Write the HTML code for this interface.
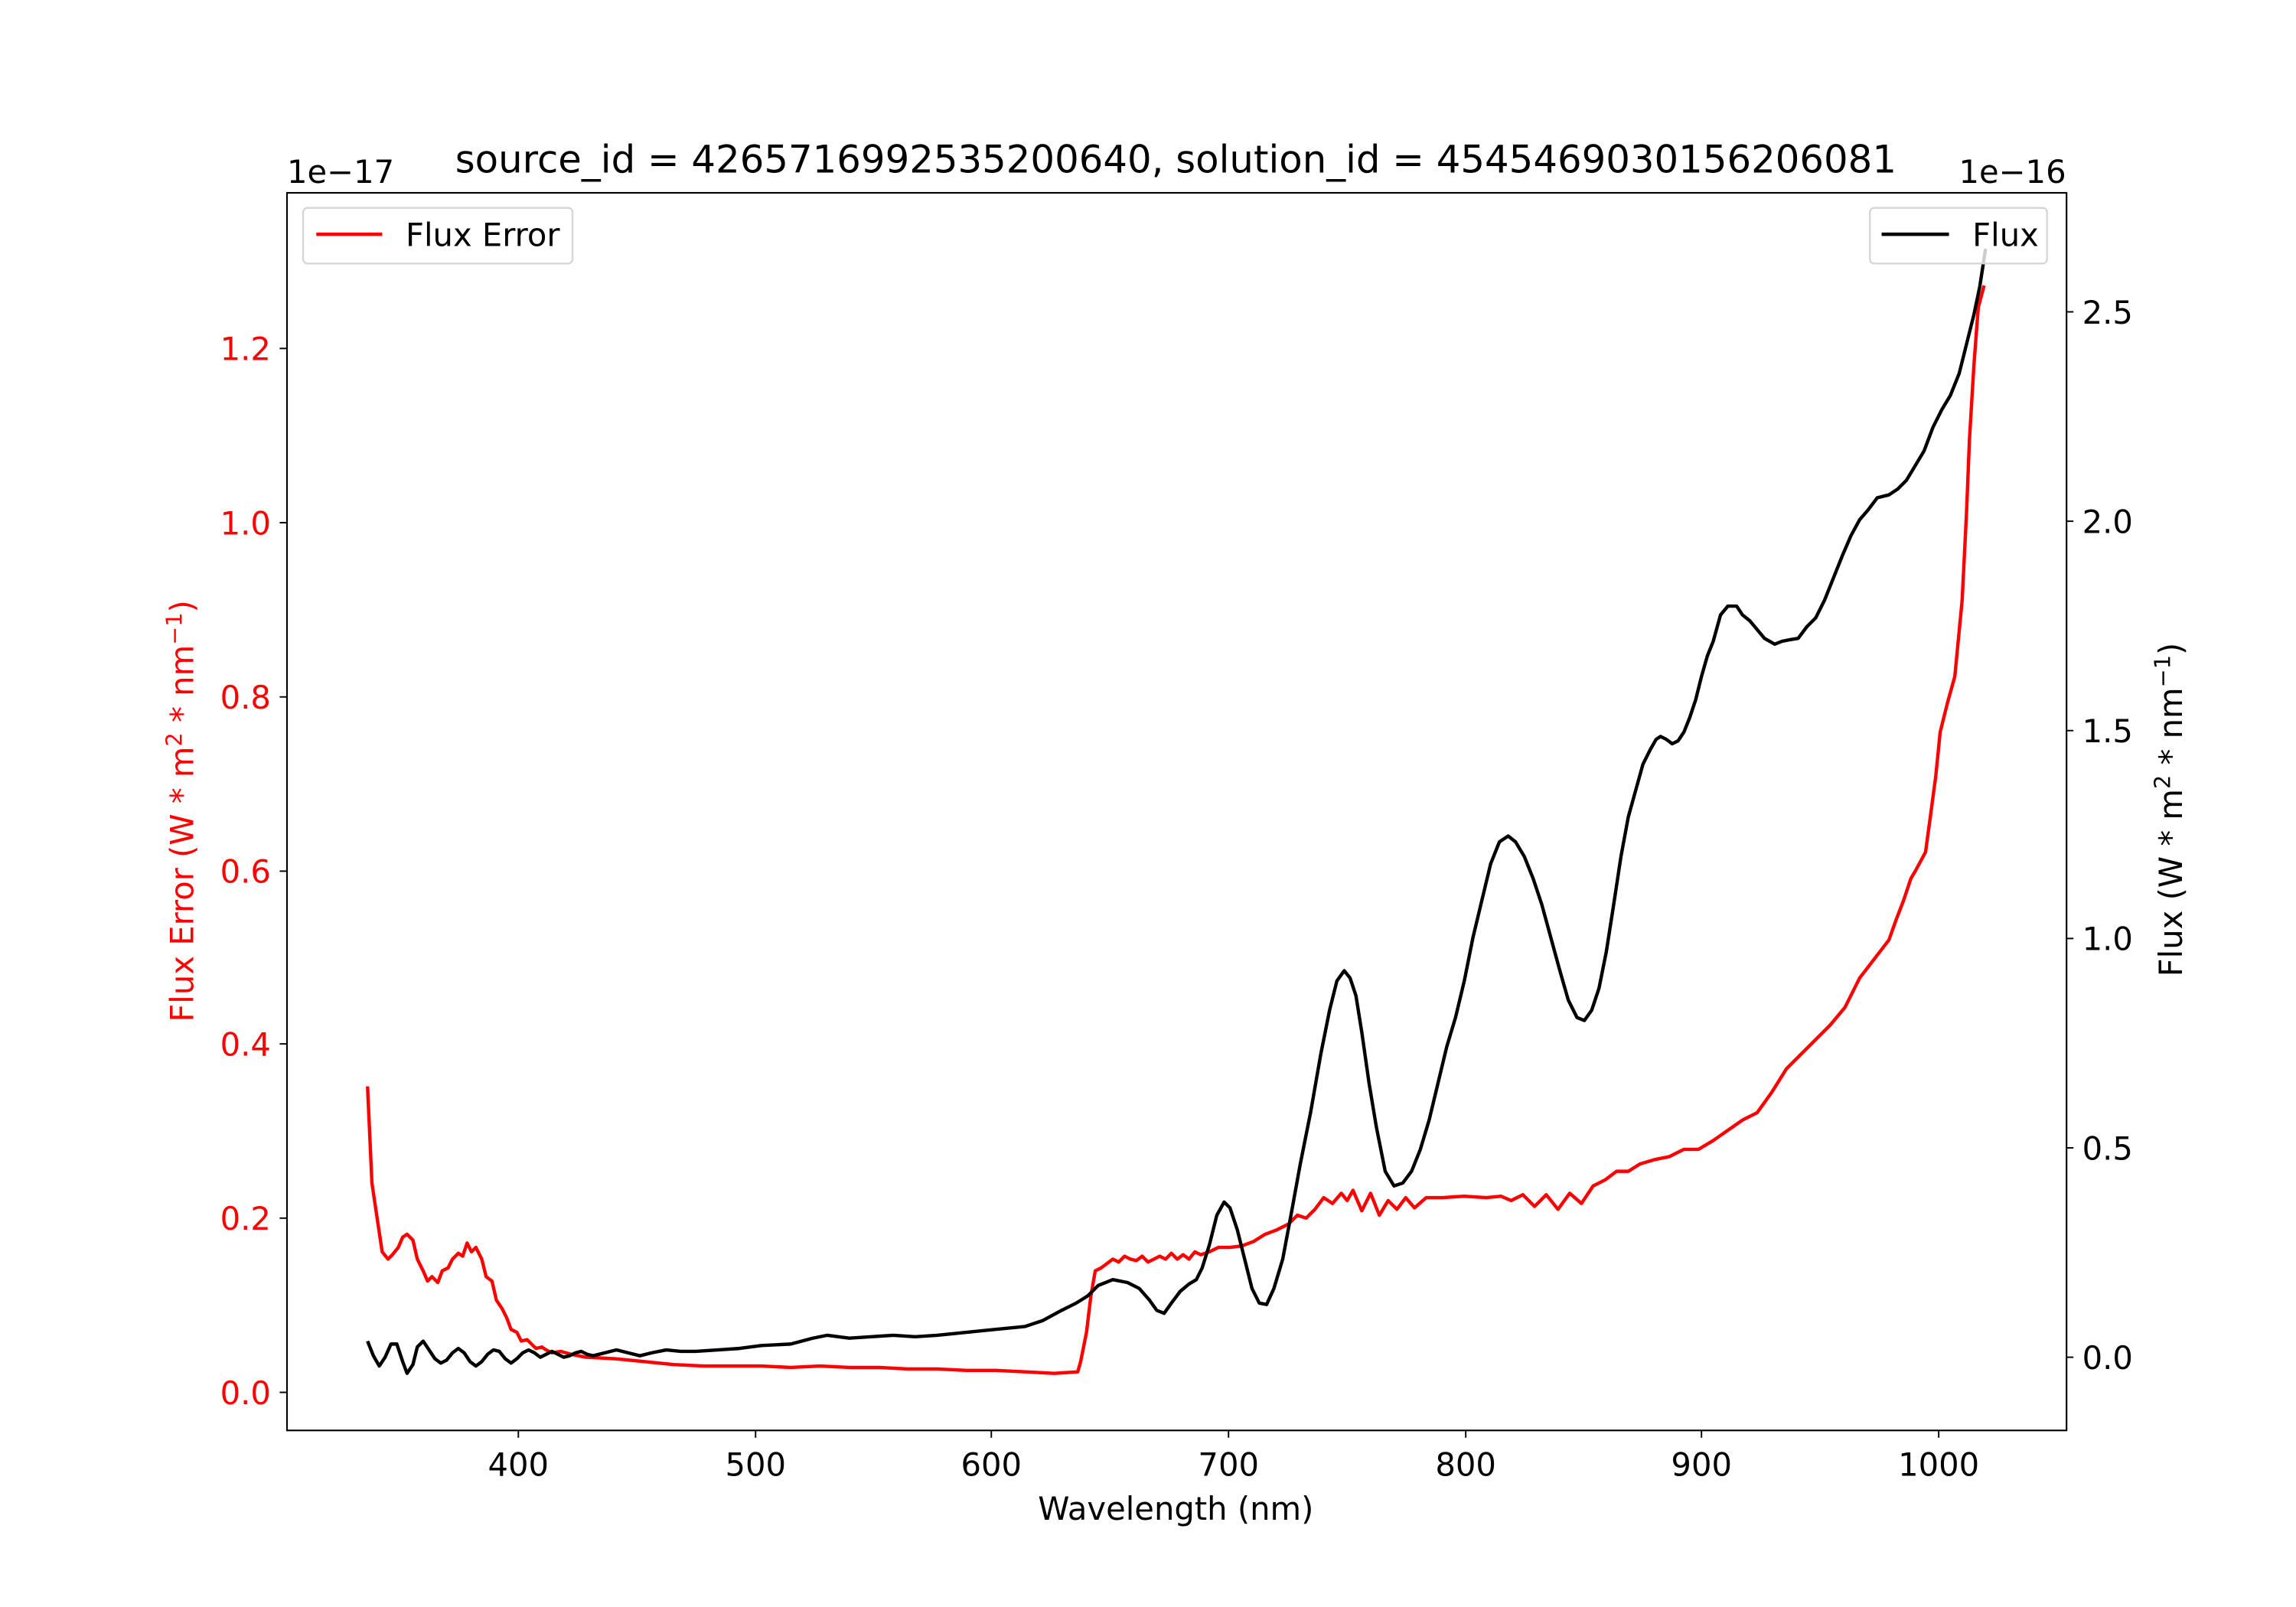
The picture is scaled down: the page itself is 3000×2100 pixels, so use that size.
<!DOCTYPE html>
<html><head><meta charset="utf-8"><style>html,body{margin:0;padding:0;background:#fff}svg{display:block}</style></head>
<body>
<svg width="3000" height="2100" viewBox="0 0 1568 1097.6" preserveAspectRatio="none" xmlns="http://www.w3.org/2000/svg" font-family="'DejaVu Sans','Liberation Sans',sans-serif">
<rect width="1568" height="1098" fill="#fff"/>
<polyline fill="none" stroke="#ff0000" stroke-width="2.3" stroke-linejoin="round" points="251,742 254,808 258,835 261,855 265,860 268,857 272,852 275,845 278,843 282,847 285,860 289,868 292,875 295,872 299,876 302,868 306,866 309,860 313,856 316,858 319,849 322,855 325,852 329,860 332,872 336,875 339,888 343,894 346,900 349,908 353,910 356,916 360,915 363,918 366,921 370,920 373,922 377,924 383,923 390,925 400,927 420,928 440,930 460,932 480,933 500,933 520,933 540,934 560,933 580,934 600,934 620,935 640,935 660,936 680,936 700,937 720,938 736,937 738,930 742,910 745,885 748,868 752,866 756,863 760,860 764,862 768,858 772,860 776,861 780,858 784,862 788,860 792,858 796,860 800,856 804,860 808,857 812,860 816,855 820,857 826,855 832,852 840,852 848,851 856,848 864,843 872,840 880,836 886,830 892,832 898,826 904,818 910,822 916,815 920,820 924,813 930,827 936,815 942,830 948,820 954,826 960,818 966,825 974,818 985,818 1000,817 1015,818 1025,817 1032,820 1040,816 1048,824 1056,816 1064,826 1072,815 1080,822 1088,810 1096,806 1104,800 1112,800 1120,795 1130,792 1140,790 1150,785 1160,785 1170,779 1180,772 1190,765 1200,760 1210,746 1220,730 1230,720 1240,710 1250,700 1260,688 1270,668 1280,655 1290,642 1295,628 1300,615 1305,600 1308,595 1315,582 1318,560 1322,530 1325,500 1330,480 1335,462 1340,410 1343,350 1345,300 1348,250 1351,210 1355,195"/>
<polyline fill="none" stroke="#000" stroke-width="2.3" stroke-linejoin="round" points="251,916 255,926 259,933 263,927 267,918 271,918 275,930 278,938 282,932 285,920 289,916 293,922 297,928 301,931 305,929 309,924 313,921 317,924 321,930 325,933 329,930 333,925 337,922 341,923 345,928 349,931 353,928 357,924 361,922 365,924 369,927 373,925 377,923 381,925 385,927 389,926 393,924 397,923 401,925 405,926 413,924 421,922 429,924 437,926 445,924 455,922 465,923 475,923 490,922 505,921 520,919 540,918 555,914 565,912 580,914 595,913 610,912 625,913 640,912 660,910 680,908 700,906 712,902 725,895 735,890 743,885 750,878 760,874 770,876 778,880 785,888 790,895 795,897 800,890 806,882 812,877 817,874 821,866 826,850 831,830 836,821 840,825 845,840 850,860 855,880 860,890 865,891 870,880 876,860 882,828 888,795 895,760 902,720 908,690 913,670 918,663 922,668 926,680 930,705 935,740 940,770 946,800 952,810 958,808 964,800 970,785 976,765 982,740 988,715 994,695 1000,670 1006,640 1012,615 1018,590 1024,575 1030,571 1035,575 1041,585 1047,600 1053,618 1059,640 1065,662 1071,683 1077,695 1082,697 1087,690 1092,675 1097,650 1102,618 1107,585 1112,558 1117,540 1122,522 1127,512 1131,505 1134,503 1138,505 1142,508 1146,506 1150,500 1154,490 1158,478 1162,462 1166,448 1170,438 1175,420 1180,414 1186,414 1190,420 1195,424 1200,430 1205,436 1212,440 1217,438 1222,437 1228,436 1234,428 1240,422 1246,410 1250,400 1254,390 1258,380 1264,366 1270,355 1276,348 1282,340 1290,338 1296,334 1302,328 1308,318 1314,308 1320,292 1326,280 1332,270 1338,255 1343,235 1348,215 1352,196 1356,170"/>
<rect x="196" y="131.7" width="1215.3" height="845.3" fill="none" stroke="#000" stroke-width="1.1"/>
<g stroke="#000" stroke-width="1">
<line x1="354" y1="977" x2="354" y2="982"/><line x1="516" y1="977" x2="516" y2="982"/><line x1="677" y1="977" x2="677" y2="982"/><line x1="839" y1="977" x2="839" y2="982"/><line x1="1001" y1="977" x2="1001" y2="982"/><line x1="1162" y1="977" x2="1162" y2="982"/><line x1="1324" y1="977" x2="1324" y2="982"/>
</g>
<g font-size="21.8" text-anchor="middle" fill="#000">
<text x="354" y="1008">400</text><text x="516" y="1008">500</text><text x="677" y="1008">600</text><text x="839" y="1008">700</text><text x="1001" y="1008">800</text><text x="1162" y="1008">900</text><text x="1324" y="1008">1000</text>
<text x="803" y="1038">Wavelength (nm)</text>
<text x="803" y="118" font-size="26">source_id = 4265716992535200640, solution_id = 4545469030156206081</text>
</g>
<g stroke="#000" stroke-width="1">
<line x1="191" y1="951" x2="196" y2="951"/><line x1="191" y1="832" x2="196" y2="832"/><line x1="191" y1="713" x2="196" y2="713"/><line x1="191" y1="595" x2="196" y2="595"/><line x1="191" y1="476" x2="196" y2="476"/><line x1="191" y1="357" x2="196" y2="357"/><line x1="191" y1="238" x2="196" y2="238"/>
</g>
<g font-size="21.8" text-anchor="end" fill="#ff0000">
<text x="185" y="959">0.0</text><text x="185" y="840">0.2</text><text x="185" y="721">0.4</text><text x="185" y="603">0.6</text><text x="185" y="484">0.8</text><text x="185" y="365">1.0</text><text x="185" y="246">1.2</text>
<text transform="translate(132,554) rotate(-90)" text-anchor="middle">Flux Error (W * m<tspan font-size="15" dy="-8">2</tspan><tspan dy="8"> * nm</tspan><tspan font-size="15" dy="-8">−1</tspan><tspan dy="8">)</tspan></text>
</g>
<text x="196" y="125" font-size="21.8" fill="#000">1e−17</text>
<g stroke="#000" stroke-width="1">
<line x1="1411" y1="927" x2="1416" y2="927"/><line x1="1411" y1="784" x2="1416" y2="784"/><line x1="1411" y1="641" x2="1416" y2="641"/><line x1="1411" y1="499" x2="1416" y2="499"/><line x1="1411" y1="356" x2="1416" y2="356"/><line x1="1411" y1="213" x2="1416" y2="213"/>
</g>
<g font-size="21.8" fill="#000">
<text x="1422" y="935">0.0</text><text x="1422" y="792">0.5</text><text x="1422" y="649">1.0</text><text x="1422" y="507">1.5</text><text x="1422" y="364">2.0</text><text x="1422" y="221">2.5</text>
<text x="1411" y="125" text-anchor="end">1e−16</text>
<text transform="translate(1490,553) rotate(-90)" text-anchor="middle">Flux (W * m<tspan font-size="15" dy="-8">2</tspan><tspan dy="8"> * nm</tspan><tspan font-size="15" dy="-8">−1</tspan><tspan dy="8">)</tspan></text>
</g>
<rect x="207" y="142" width="184" height="38" rx="3" fill="#fff" fill-opacity="0.8" stroke="#d5d5d5" stroke-width="1.2"/>
<line x1="216" y1="160" x2="261" y2="160" stroke="#ff0000" stroke-width="2.3"/>
<text x="277" y="168" font-size="21.8" fill="#000">Flux Error</text>
<rect x="1277" y="142" width="121" height="38" rx="3" fill="#fff" fill-opacity="0.8" stroke="#d5d5d5" stroke-width="1.2"/>
<line x1="1285" y1="160" x2="1331" y2="160" stroke="#000" stroke-width="2.3"/>
<text x="1347" y="168" font-size="21.8" fill="#000">Flux</text>
</svg>
</body></html>
